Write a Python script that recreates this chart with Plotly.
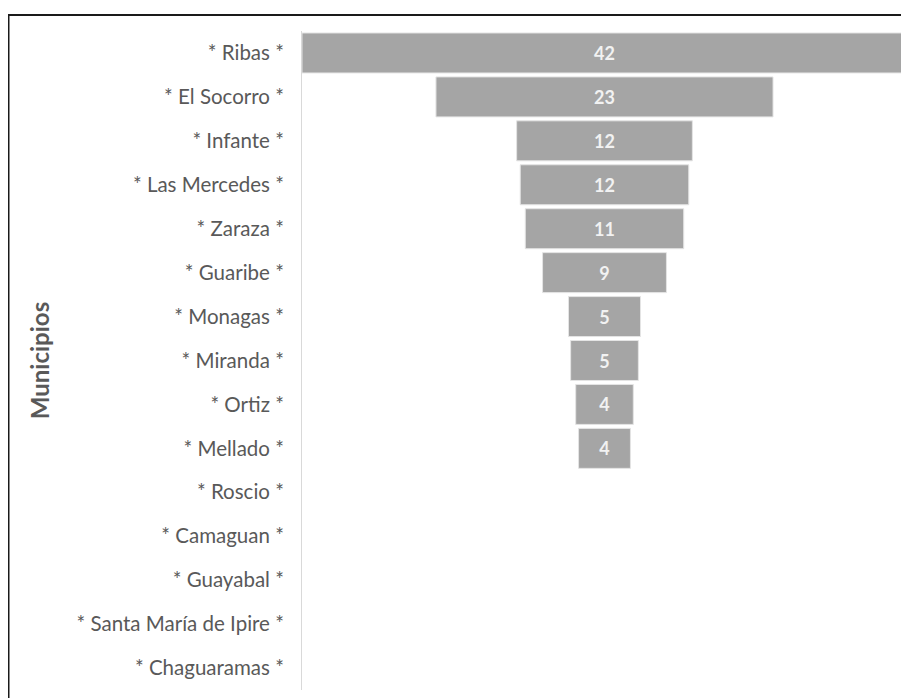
import plotly.graph_objects as go

municipios = ["* Ribas *", "* El Socorro *", "* Infante *", "* Las Mercedes *", "* Zaraza *",
              "* Guaribe *", "* Monagas *", "* Miranda *", "* Ortiz *", "* Mellado *",
              "* Roscio *", "* Camaguan *", "* Guayabal *", "* Santa María de Ipire *", "* Chaguaramas *"]
valores = [42, 23.4, 12.2, 11.7, 11.0, 8.6, 5.0, 4.7, 4.0, 3.6, 0, 0, 0, 0, 0]

# page body has an 8px default margin, so the figure is drawn offset by 8px
OFF = 8
W, H = 909 - OFF, 698 - OFF
L, R, T, B = 302 - OFF, 2, 31 - OFF, 8
PW, PH = W - L - R, H - T - B

def px_x(p):
    return (p - OFF - L) / PW

def px_y(p):
    return (H - B - (p - OFF)) / PH

etiquetas = [f"{v:.0f}" if v > 0 else "" for v in valores]
bordes = [1 if v > 0 else 0 for v in valores]

fig = go.Figure(go.Funnel(
    y=municipios,
    x=valores,
    text=etiquetas,
    textinfo="text",
    textposition="inside",
    insidetextanchor="middle",
    textfont=dict(family="Lato", size=18, color="#f2f2f2", weight="bold"),
    marker=dict(color="#a5a5a5", line=dict(color="#e4e4e4", width=bordes)),
    connector=dict(visible=False),
    hoverinfo="y+x",
))

half = max(valores) / 2
fig.update_layout(
    width=W, height=H,
    margin=dict(l=L, r=R, t=T, b=B, autoexpand=False),
    paper_bgcolor="white", plot_bgcolor="white",
    showlegend=False,
    funnelgap=0.09,
    font=dict(family="Lato", color="#595959"),
    xaxis=dict(visible=False, range=[-half, half], fixedrange=True),
    yaxis=dict(
        showline=True, linecolor="#d9d9d9", linewidth=1,
        showgrid=False, ticks="", ticklabelstandoff=13,
        tickfont=dict(family="Lato", size=20.5, color="#595959"),
        title=dict(text="Municipios", standoff=20,
                   font=dict(family="Lato", size=24, color="#595959", weight="bold")),
        automargin=False,
    ),
    shapes=[
        dict(type="line", xref="paper", yref="paper",
             x0=px_x(OFF - 2), x1=px_x(930), y0=px_y(15), y1=px_y(15),
             line=dict(color="#1a1a1a", width=2)),
        dict(type="line", xref="paper", yref="paper",
             x0=px_x(OFF + 0.5), x1=px_x(OFF + 0.5), y0=px_y(15), y1=px_y(720),
             line=dict(color="#1a1a1a", width=2)),
    ],
)

fig.write_html("out.html")
